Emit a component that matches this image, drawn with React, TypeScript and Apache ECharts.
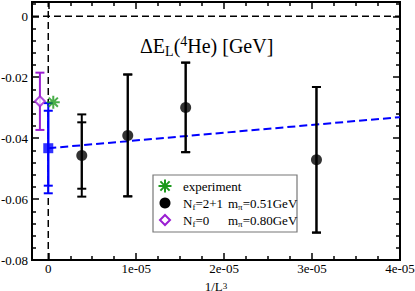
import React, { useEffect, useRef } from 'react';
import * as echarts from 'echarts';

// ---- axis ranges & ticks ----
const xMin = -1.85e-6;
const xMax = 4e-5;
const yMin = -0.08;
const yMax = 0.0047;
const xTickValues = [0, 1e-5, 2e-5, 3e-5, 4e-5];
const xTickLabels = ['0', '1e-05', '2e-05', '3e-05', '4e-05'];
const xMinorTicks = [2.5e-6, 5e-6, 7.5e-6, 1.25e-5, 1.5e-5, 1.75e-5, 2.25e-5, 2.5e-5, 2.75e-5, 3.25e-5, 3.5e-5, 3.75e-5];
const yTickValues = [-0.08, -0.06, -0.04, -0.02, 0];
const yTickLabels = ['-0.08', '-0.06', '-0.04', '-0.02', '0'];
const yMinorTicks = [-0.076, -0.072, -0.068, -0.064, -0.056, -0.052, -0.048, -0.044, -0.036, -0.032, -0.028, -0.024, -0.016, -0.012, -0.008, -0.004, 0.004];

// ---- data ----
// Nf=2+1, m_pi=0.51GeV  (x = 1/L^3 for L = 64, 48, 40, 32)
const nf21X = [3.81e-6, 9.04e-6, 1.5625e-5, 3.05e-5];
const nf21Y = [-0.0457, -0.0391, -0.0299, -0.0471];
const nf21ErrStat = [0.0109, 0.0200, 0.0147, 0.0239];
const nf21ErrTot = [0.0135, 0.0200, 0.0147, 0.0239];
// infinite-volume extrapolation
const extrapX = [0];
const extrapY = [-0.0433];
const extrapErrStat = [0.0123];
const extrapErrTot = [0.0148];
// fit line
const fitX = [0, 4e-5];
const fitY = [-0.0433, -0.0331];
// Nf=0, m_pi=0.80GeV
const nf0X = [-0.95e-6];
const nf0Y = [-0.0279];
const nf0Err = [0.0094];
// experiment
const expX = [0.57e-6];
const expY = [-0.0282];

const FONT = 'Liberation Serif';
const BLUE = '#0000ff';
const PURPLE = '#9a1ed2';
const GREEN = '#1c9a1c';
const BLACK = '#000000';
const ASTERISK = 'path://M0,-10L0,10M-10,0L10,0M-7.07,-7.07L7.07,7.07M-7.07,7.07L7.07,-7.07';

const labelFor = (vals: number[], labels: string[]) => (v: number) => {
  const i = vals.findIndex((t) => Math.abs(t - v) < Math.abs(vals[1] - vals[0]) * 1e-6);
  return i >= 0 ? '{t|' + labels[i] + '}' : '';
};

const tickRich = { t: { color: BLACK, fontFamily: FONT, fontSize: 13, lineHeight: 14 } };

function mkX(position: string, ticks: number[], len: number, withLabels: boolean): any {
  return {
    type: 'value', gridIndex: 0, min: xMin, max: xMax, position,
    axisLine: { show: true, onZero: false, lineStyle: { color: BLACK, width: 2 } },
    axisTick: { show: true, inside: true, length: len, customValues: ticks, lineStyle: { color: BLACK, width: 1.5 } },
    axisLabel: withLabels
      ? { show: true, customValues: xTickValues, formatter: labelFor(xTickValues, xTickLabels), color: BLACK, fontFamily: FONT, fontSize: 13, rich: tickRich, margin: 1 }
      : { show: false },
    splitLine: { show: false },
    name: withLabels ? '{a|1/L}{b|3}' : '',
    nameLocation: 'middle',
    nameGap: 21,
    nameMoveOverlap: false,
    nameTextStyle: {
      color: BLACK, fontFamily: FONT, fontSize: 13,
      rich: {
        a: { fontFamily: FONT, fontSize: 13, color: BLACK, lineHeight: 10 },
        b: { fontFamily: FONT, fontSize: 9, color: BLACK, lineHeight: 2, verticalAlign: 'top' },
      },
    },
  };
}

function mkY(position: string, ticks: number[], len: number, withLabels: boolean): any {
  return {
    type: 'value', gridIndex: 0, min: yMin, max: yMax, position,
    axisLine: { show: true, onZero: false, lineStyle: { color: BLACK, width: 2 } },
    axisTick: { show: true, inside: true, length: len, customValues: ticks, lineStyle: { color: BLACK, width: 1.5 } },
    axisLabel: withLabels
      ? { show: true, customValues: yTickValues, formatter: labelFor(yTickValues, yTickLabels), color: BLACK, fontFamily: FONT, fontSize: 13, rich: tickRich, margin: 4 }
      : { show: false },
    splitLine: { show: false },
  };
}

function errorBarSeries(xs: number[], ys: number[], errs: number[], color: string): any {
  return {
    type: 'custom',
    xAxisIndex: 0,
    yAxisIndex: 0,
    silent: true,
    z: 3,
    data: xs.map((x, i) => [x, ys[i] - errs[i], ys[i] + errs[i]]),
    renderItem: (_params: any, api: any) => {
      const x = api.value(0);
      const lo = api.coord([x, api.value(1)]);
      const hi = api.coord([x, api.value(2)]);
      const hw = 4.5;
      const style = { stroke: color, lineWidth: 2, fill: 'none' };
      return {
        type: 'group',
        children: [
          { type: 'line', shape: { x1: lo[0], y1: lo[1], x2: hi[0], y2: hi[1] }, style },
          { type: 'line', shape: { x1: lo[0] - hw, y1: lo[1], x2: lo[0] + hw, y2: lo[1] }, style },
          { type: 'line', shape: { x1: hi[0] - hw, y1: hi[1], x2: hi[0] + hw, y2: hi[1] }, style },
        ],
      };
    },
  };
}

const richLegend = {
  a: { fontFamily: FONT, fontSize: 13, color: BLACK, lineHeight: 16 },
  s: { fontFamily: FONT, fontSize: 9, color: BLACK, lineHeight: 8, verticalAlign: 'bottom' },
};

function legendText(x: number, y: number, text: string): any {
  return {
    type: 'text', x, y,
    style: { text, rich: richLegend, align: 'left', verticalAlign: 'middle', textAlign: 'left', textVerticalAlign: 'middle' },
  };
}

export default function App() {
  const ref = useRef<HTMLDivElement>(null);
  useEffect(() => {
    if (!ref.current) return;
    const chart = echarts.init(ref.current, null, { renderer: 'svg' });
    const lx = 165;
    const r1 = 186, r2 = 203, r3 = 220;
    const option: any = {
      animation: false,
      backgroundColor: '#ffffff',
      textStyle: { fontFamily: FONT, color: BLACK, fontSize: 13 },
      grid: { left: 32, right: 15, top: 2, bottom: 31, containLabel: false, outerBoundsMode: 'none' },
      xAxis: [
        mkX('bottom', xTickValues, 7, true),
        mkX('bottom', xMinorTicks, 4, false),
        mkX('top', xTickValues, 7, false),
        mkX('top', xMinorTicks, 4, false),
      ],
      yAxis: [
        mkY('left', yTickValues, 7, true),
        mkY('left', yMinorTicks, 4, false),
        mkY('right', yTickValues, 7, false),
        mkY('right', yMinorTicks, 4, false),
      ],
      series: [
        {
          type: 'line', xAxisIndex: 0, yAxisIndex: 0, silent: true, symbol: 'none', z: 1,
          data: [[xMin, 0], [xMax, 0]],
          lineStyle: { color: BLACK, width: 1.5, type: [7, 4] },
        },
        {
          type: 'line', xAxisIndex: 0, yAxisIndex: 0, silent: true, symbol: 'none', z: 1,
          data: [[0, yMin], [0, yMax]],
          lineStyle: { color: BLACK, width: 1.5, type: [7, 4] },
        },
        {
          type: 'line', xAxisIndex: 0, yAxisIndex: 0, silent: true, symbol: 'none', z: 2,
          data: fitX.map((x, i) => [x, fitY[i]]),
          lineStyle: { color: BLUE, width: 2, type: [8, 4] },
        },
        errorBarSeries(nf21X, nf21Y, nf21ErrTot, BLACK),
        errorBarSeries(nf21X, nf21Y, nf21ErrStat, BLACK),
        errorBarSeries(extrapX, extrapY, extrapErrTot, BLUE),
        errorBarSeries(extrapX, extrapY, extrapErrStat, BLUE),
        errorBarSeries(nf0X, nf0Y, nf0Err, PURPLE),
        {
          name: 'Nf=2+1', type: 'scatter', xAxisIndex: 0, yAxisIndex: 0, z: 5,
          symbol: 'circle', symbolSize: 11,
          itemStyle: { color: BLACK },
          data: nf21X.map((x, i) => [x, nf21Y[i]]),
        },
        {
          name: 'extrapolation', type: 'scatter', xAxisIndex: 0, yAxisIndex: 0, z: 5,
          symbol: 'rect', symbolSize: 10,
          itemStyle: { color: BLUE },
          data: extrapX.map((x, i) => [x, extrapY[i]]),
        },
        {
          name: 'Nf=0', type: 'scatter', xAxisIndex: 0, yAxisIndex: 0, z: 5,
          symbol: 'diamond', symbolSize: 10,
          itemStyle: { color: '#ffffff', borderColor: PURPLE, borderWidth: 2 },
          data: nf0X.map((x, i) => [x, nf0Y[i]]),
        },
        {
          name: 'experiment', type: 'scatter', xAxisIndex: 0, yAxisIndex: 0, z: 6,
          symbol: ASTERISK, symbolSize: 13,
          itemStyle: { color: 'none', borderColor: GREEN, borderWidth: 2 },
          data: expX.map((x, i) => [x, expY[i]]),
        },
      ],
      graphic: [
        {
          type: 'text', x: 140, y: 46, z: 10,
          style: {
            text: '{a|ΔE}{b|L}{a|(}{c|4}{a|He) [GeV]}',
            align: 'left', verticalAlign: 'middle', textAlign: 'left', textVerticalAlign: 'middle',
            rich: {
              a: { fontFamily: FONT, fontSize: 20, color: BLACK, lineHeight: 24 },
              b: { fontFamily: FONT, fontSize: 14, color: BLACK, lineHeight: 14, verticalAlign: 'bottom' },
              c: { fontFamily: FONT, fontSize: 14, color: BLACK, lineHeight: 2, verticalAlign: 'top' },
            },
          },
        },
        {
          type: 'group', z: 10,
          children: [
            { type: 'rect', shape: { x: 153, y: 175, width: 144, height: 57 }, style: { fill: '#ffffff', stroke: '#777777', lineWidth: 1.2 } },
            { type: 'line', shape: { x1: lx, y1: r1 - 6.5, x2: lx, y2: r1 + 6.5 }, style: { stroke: GREEN, lineWidth: 2 } },
            { type: 'line', shape: { x1: lx - 6.5, y1: r1, x2: lx + 6.5, y2: r1 }, style: { stroke: GREEN, lineWidth: 2 } },
            { type: 'line', shape: { x1: lx - 4.6, y1: r1 - 4.6, x2: lx + 4.6, y2: r1 + 4.6 }, style: { stroke: GREEN, lineWidth: 2 } },
            { type: 'line', shape: { x1: lx - 4.6, y1: r1 + 4.6, x2: lx + 4.6, y2: r1 - 4.6 }, style: { stroke: GREEN, lineWidth: 2 } },
            { type: 'circle', shape: { cx: lx, cy: r2, r: 5.5 }, style: { fill: BLACK } },
            { type: 'polygon', shape: { points: [[lx, r3 - 5], [lx + 5, r3], [lx, r3 + 5], [lx - 5, r3]] }, style: { fill: '#ffffff', stroke: PURPLE, lineWidth: 2 } },
            legendText(183, r1, '{a|experiment}'),
            legendText(183, r2, '{a|N}{s|f}{a|=2+1}'),
            legendText(228, r2, '{a|m}{s|π}{a|=0.51GeV}'),
            legendText(183, r3, '{a|N}{s|f}{a|=0}'),
            legendText(228, r3, '{a|m}{s|π}{a|=0.80GeV}'),
          ],
        },
      ],
    };
    chart.setOption(option);
    return () => chart.dispose();
  }, []);
  return <div ref={ref} style={{ position: 'fixed', left: 0, top: 0, width: 415, height: 291 }} />;
}
